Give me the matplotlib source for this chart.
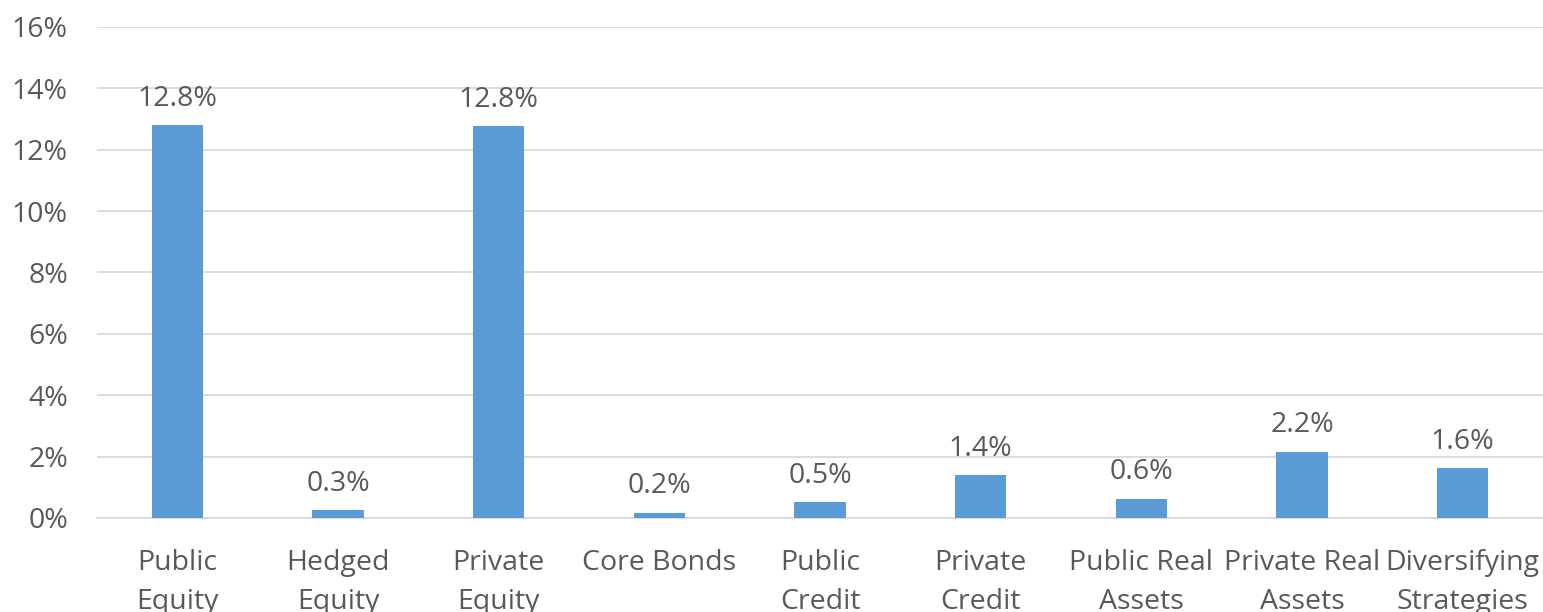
import matplotlib.pyplot as plt
from matplotlib.ticker import FuncFormatter

plt.rcParams['font.family'] = ['Open Sans', 'DejaVu Sans']

categories = ["Public\nEquity", "Hedged\nEquity", "Private\nEquity", "Core Bonds",
              "Public\nCredit", "Private\nCredit", "Public Real\nAssets",
              "Private Real\nAssets", "Diversifying\nStrategies"]
values = [12.8, 0.26, 12.77, 0.17, 0.52, 1.40, 0.63, 2.16, 1.62]

text_color = "#595959"
grid_color = "#D9D9D9"
fs = 20.5

fig = plt.figure(figsize=(15.43, 6.12), dpi=100)
ax = fig.add_axes([0.0629, 0.1536, 0.9371, 0.8023])

x = list(range(len(categories)))
bars = ax.bar(x, values, width=0.32, color="#5B9BD5", zorder=3)

for xi, v in zip(x, values):
    ax.annotate(f"{v:.1f}%", (xi, v), xytext=(0, 9), textcoords="offset points",
                ha="center", va="bottom", fontsize=fs, color=text_color)

ax.set_ylim(0, 16)
ax.set_yticks(range(0, 17, 2))
ax.yaxis.set_major_formatter(FuncFormatter(lambda v, p: f"{v:.0f}%"))
ax.set_xlim(-0.5, len(categories) - 0.5)
ax.set_xticks(x)
ax.set_xticklabels(categories, linespacing=1.5)

ax.grid(axis="y", color=grid_color, linewidth=1.3, zorder=0)
for s in ["top", "right", "left"]:
    ax.spines[s].set_visible(False)
ax.spines["bottom"].set_color(grid_color)
ax.spines["bottom"].set_linewidth(1.3)

ax.tick_params(axis="both", length=0, labelsize=fs, labelcolor=text_color)
ax.tick_params(axis="x", pad=22.5)
ax.tick_params(axis="y", pad=21)

fig.savefig("out.png", dpi=100)
